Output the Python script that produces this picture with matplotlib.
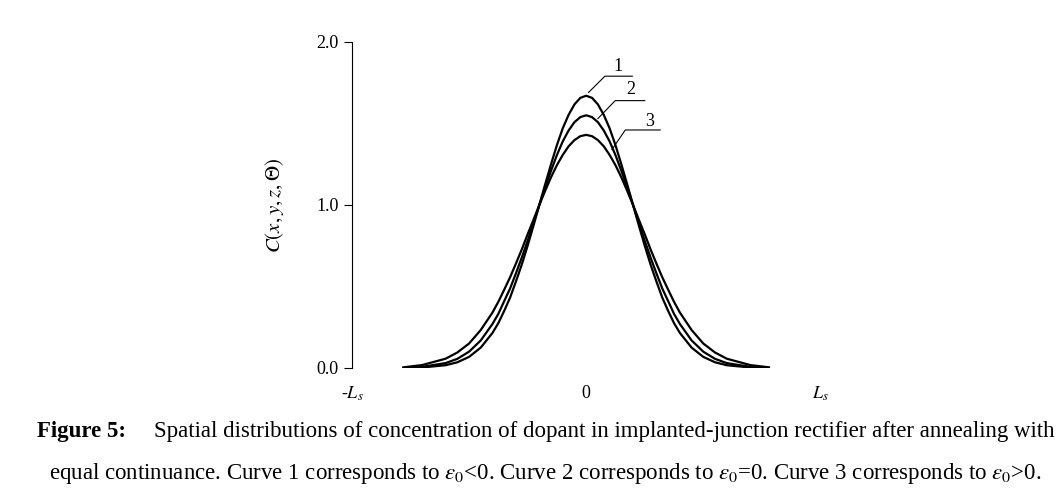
import matplotlib
matplotlib.use("Agg")
import matplotlib.pyplot as plt

plt.rcParams["font.family"] = "Liberation Serif"
plt.rcParams["mathtext.fontset"] = "stix"

xh = [0.0, 0.025, 0.05, 0.075, 0.1, 0.125, 0.15, 0.175, 0.2, 0.225, 0.25, 0.275, 0.3,
      0.325, 0.35, 0.375, 0.4, 0.45, 0.5, 0.55, 0.6, 0.7, 0.78]
half1 = [1.67, 1.657, 1.617, 1.553, 1.47, 1.367, 1.25, 1.127, 1.0, 0.873, 0.75, 0.634, 0.53,
         0.431, 0.35, 0.275, 0.215, 0.125, 0.068, 0.035, 0.017, 0.003, 0.0]
half2 = [1.55, 1.539, 1.508, 1.457, 1.39, 1.306, 1.21, 1.109, 1.0, 0.891, 0.78, 0.677, 0.58,
         0.487, 0.41, 0.332, 0.27, 0.169, 0.10, 0.056, 0.03, 0.007, 0.0]
half3 = [1.43, 1.422, 1.398, 1.360, 1.307, 1.244, 1.17, 1.087, 1.0, 0.909, 0.82, 0.727, 0.64,
         0.556, 0.48, 0.406, 0.34, 0.233, 0.15, 0.095, 0.057, 0.018, 0.004]
x = [-v for v in xh[::-1]] + xh[1:]
c1 = half1[::-1] + half1[1:]
c2 = half2[::-1] + half2[1:]
c3 = half3[::-1] + half3[1:]

fig = plt.figure(figsize=(10.6, 4.97), dpi=100)
ax = fig.add_axes([0.332, 0.2596, 0.442, 0.656])
for c in (c1, c2, c3):
    ax.plot(x, c, color="black", lw=1.6)

labels = [("1", (0.137, 1.85), [(0.01, 1.69), (0.08, 1.79), (0.197, 1.79)]),
          ("2", (0.19, 1.71), [(0.05, 1.53), (0.124, 1.64), (0.25, 1.64)]),
          ("3", (0.27, 1.51), [(0.11, 1.34), (0.167, 1.46), (0.316, 1.46)])]
for t, pos, pts in labels:
    ax.plot([p[0] for p in pts], [p[1] for p in pts], color="black", lw=0.8)
    ax.text(pos[0], pos[1], t, fontsize=13, ha="center", va="center")

ax.set_xlim(-1, 1)
ax.set_ylim(0, 2.0)
for s in ("top", "right", "bottom"):
    ax.spines[s].set_visible(False)
ax.set_yticks([0, 1, 2])
ax.set_yticklabels(["0.0", "1.0", "2.0"], fontsize=13)
ax.set_xticks([-1, 0, 1])
ax.set_xticklabels([r"-$L_s$", "0", r"$L_s$"], fontsize=13)
ax.tick_params(axis="x", length=0, pad=12)
ax.tick_params(axis="y", direction="out", length=6)
ax.set_ylabel(r"$C(x,y,z,\Theta)$", fontsize=15, labelpad=22)

bold = fig.text(37/1060, 1-432/497, "Figure 5:", fontsize=16.5, fontweight="bold",
                va="center", ha="left")
fig.text(1055/1060, 1-432/497,
         "Spatial distributions of concentration of dopant in implanted-junction rectifier after annealing with",
         fontsize=16.5, va="center", ha="right")
fig.text(545/1060, 1-473/497,
         r"equal continuance. Curve 1 corresponds to $\varepsilon_0$<0. Curve 2 corresponds to $\varepsilon_0$=0. Curve 3 corresponds to $\varepsilon_0$>0.",
         fontsize=16.5, va="center", ha="center")
fig.savefig("out.png", dpi=100)
